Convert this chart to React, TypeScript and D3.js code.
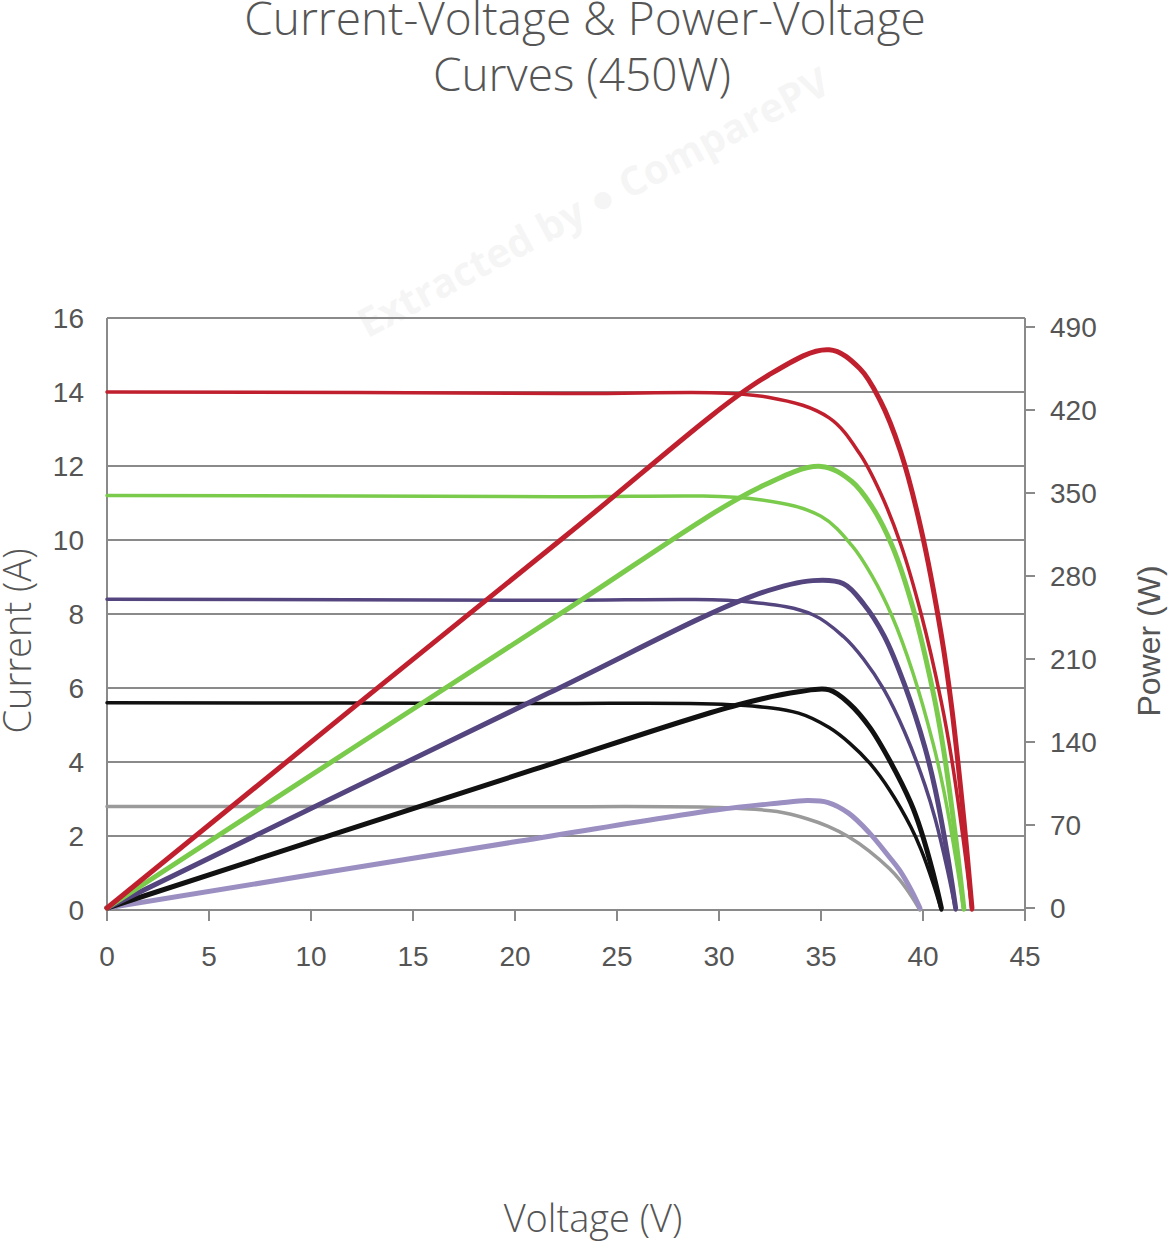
import React from "react";
import * as d3 from "d3";

const vTicks = [0, 5, 10, 15, 20, 25, 30, 35, 40, 45];
const iTicks = [0, 2, 4, 6, 8, 10, 12, 14, 16];
const pTicks = [0, 70, 140, 210, 280, 350, 420, 490];

const redV = [0, 22.4, 32.4, 35.4, 36.9, 37.9, 38.9, 39.9, 40.9, 41.4, 42.0, 42.4];
const redI = [14, 13.96, 13.86, 13.3, 12.33, 11.29, 9.9, 8.02, 5.62, 4.1, 1.79, 0];
const redP = [0, 312.7, 449.1, 470.8, 455, 428, 385, 320, 230, 170, 75, 0];

const greenV = [0, 22, 32, 35, 36.5, 37.5, 38.5, 39.5, 40.5, 41, 41.6, 42];
const greenI = [11.2, 11.17, 11.09, 10.64, 9.86, 9.03, 7.92, 6.42, 4.49, 3.28, 1.43, 0];
const greenP = [0, 245.7, 354.9, 372.4, 359.9, 338.6, 304.9, 253.6, 181.8, 134.5, 59.5, 0];

const purpleV = [0, 21.6, 31.6, 34.6, 36.1, 37.1, 38.1, 39.1, 40.1, 40.6, 41.2, 41.6];
const purpleI = [8.4, 8.37, 8.32, 7.98, 7.39, 6.77, 5.94, 4.81, 3.37, 2.46, 1.08, 0];
const purpleP = [0, 180.8, 262.9, 276.1, 273.5, 256.2, 229.3, 188.1, 135.1, 99.9, 44.5, 0];

const blackV = [0, 20.9, 30.9, 33.9, 35.4, 36.4, 37.4, 38.4, 39.4, 39.9, 40.5, 40.9];
const blackI = [5.6, 5.58, 5.54, 5.32, 4.93, 4.51, 3.96, 3.21, 2.25, 1.64, 0.72, 0];
const blackP = [0, 116.6, 171.2, 182.3, 184.0, 172.2, 152.1, 123.3, 88.7, 65.4, 29.2, 0];

const greyV = [0, 19.85, 29.85, 32.85, 34.35, 35.35, 36.35, 37.35, 38.35, 38.85, 39.45, 39.85];
const greyI = [2.8, 2.79, 2.77, 2.66, 2.46, 2.26, 1.98, 1.6, 1.12, 0.82, 0.36, 0];
const greyP = [0, 55.4, 82.7, 88.4, 90.6, 88.9, 80.0, 63.8, 43.0, 31.9, 14.2, 0];

const series = [
  { v: greyV, i: greyI, p: greyP, ci: "#9a9a9a", cp: "#9b8fc2" },
  { v: blackV, i: blackI, p: blackP, ci: "#111111", cp: "#111111" },
  { v: purpleV, i: purpleI, p: purpleP, ci: "#54457f", cp: "#54457f" },
  { v: greenV, i: greenI, p: greenP, ci: "#7acb4c", cp: "#7acb4c" },
  { v: redV, i: redI, p: redP, ci: "#c0202e", cp: "#c0202e" },
];

export default function App() {
  const x = d3.scaleLinear().domain([0, 45]).range([107, 1025]);
  const y = d3.scaleLinear().domain([0, 16]).range([910, 318]);
  const yp = d3.scaleLinear().domain([0, 490]).range([908, 327]);
  const font = "'Open Sans', sans-serif";
  const tfont = "'Liberation Sans', Arial, sans-serif";
  const curve = d3.curveCatmullRom.alpha(0.5);
  const lineI = (s: any) =>
    d3.line<number>().x((_, k) => x(s.v[k])).y((d) => y(d)).curve(curve)(s.i) || "";
  const lineP = (s: any) =>
    d3.line<number>().x((_, k) => x(s.v[k])).y((d) => yp(d)).curve(curve)(s.p) || "";
  return (
    <svg width={1168} height={1241} style={{ position: "absolute", left: 0, top: 0, background: "#fff" }}>
      <text x={585} y={35} textAnchor="middle" fontFamily={font} fontWeight={300} fontSize={46} fill="#555">Current-Voltage &amp; Power-Voltage</text>
      <text x={582} y={91} textAnchor="middle" fontFamily={font} fontWeight={300} fontSize={46} fill="#555">Curves (450W)</text>
      <text x={600} y={215} textAnchor="middle" fontFamily={font} fontWeight={700} fontSize={40} fill="#000" opacity={0.035} transform="rotate(-28 600 215)">Extracted by ● ComparePV</text>
      {iTicks.map((t) => (
        <g key={t}>
          <line x1={107} x2={1025} y1={y(t)} y2={y(t)} stroke="#8a8a8a" strokeWidth={2} />
          <text x={84} y={y(t) + 10} textAnchor="end" fontFamily={tfont} fontSize={28} fill="#555">{t}</text>
        </g>
      ))}
      <line x1={107} x2={107} y1={318} y2={910} stroke="#8a8a8a" strokeWidth={2} />
      <line x1={1025} x2={1025} y1={318} y2={910} stroke="#8a8a8a" strokeWidth={2} />
      {vTicks.map((t) => (
        <g key={t}>
          <line x1={x(t)} x2={x(t)} y1={910} y2={921} stroke="#8a8a8a" strokeWidth={2} />
          <text x={x(t)} y={966} textAnchor="middle" fontFamily={tfont} fontSize={28} fill="#555">{t}</text>
        </g>
      ))}
      {pTicks.map((t) => (
        <g key={t}>
          <line x1={1025} x2={1035} y1={yp(t)} y2={yp(t)} stroke="#8a8a8a" strokeWidth={2} />
          <text x={1050} y={yp(t) + 10} textAnchor="start" fontFamily={tfont} fontSize={28} fill="#555">{t}</text>
        </g>
      ))}
      {series.map((s, k) => (
        <g key={k} fill="none" strokeLinecap="round">
          <path d={lineI(s)} stroke={s.ci} strokeWidth={3.5} />
          <path d={lineP(s)} stroke={s.cp} strokeWidth={5} />
        </g>
      ))}
      <text transform="translate(31 641) rotate(-90)" textAnchor="middle" fontFamily={font} fontWeight={300} fontSize={38} fill="#555">Current (A)</text>
      <text transform="translate(1160 641) rotate(-90)" textAnchor="middle" fontFamily={tfont} fontSize={32} fill="#555">Power (W)</text>
      <text x={593} y={1232} textAnchor="middle" fontFamily={font} fontWeight={300} fontSize={38} fill="#555">Voltage (V)</text>
    </svg>
  );
}
